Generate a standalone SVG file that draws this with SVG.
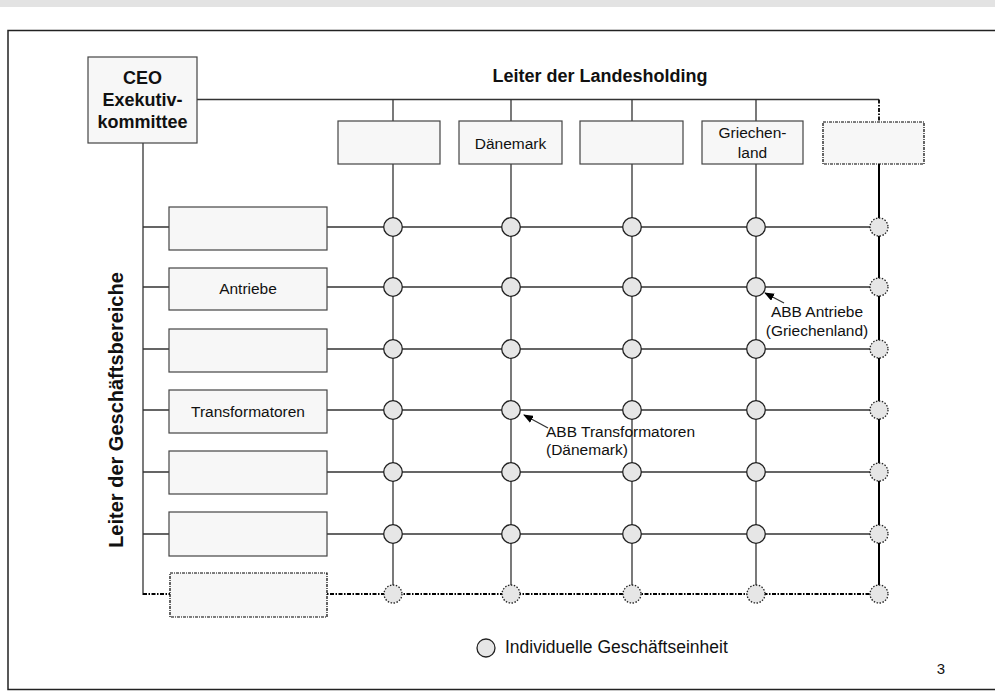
<svg xmlns="http://www.w3.org/2000/svg" width="995" height="700" viewBox="0 0 995 700">
<defs>
<marker id="ah" markerWidth="10" markerHeight="8" refX="9" refY="4" orient="auto" markerUnits="userSpaceOnUse">
<path d="M0,0 L10,4 L0,8 Z" fill="#000"/>
</marker>
</defs>
<style>
text{font-family:"Liberation Sans",Arial,sans-serif;fill:#111}
.b{font-weight:bold;font-size:18px}
.t{font-size:15.5px}
.box{fill:#f7f7f7;stroke:#444;stroke-width:1.2}
.dbox{fill:#f7f7f7;stroke:#000;stroke-width:1.2;stroke-dasharray:3 1 1 1}
.ln{stroke:#333;stroke-width:1.3;fill:none}
.dl{stroke:#000;stroke-width:1.8;fill:none;stroke-dasharray:4 1.5 1.5 1.5}
.tk{stroke:#000;stroke-width:2;fill:none}
.c{fill:#e6e6e6;stroke:#222;stroke-width:1.3}
.dc{fill:#e6e6e6;stroke:#222;stroke-width:1.3;stroke-dasharray:1.5 1.5}
</style>
<rect x="0" y="0" width="995" height="7" fill="#e3e3e3"/>
<rect x="8" y="30.5" width="1000" height="659" fill="#fff" stroke="#222" stroke-width="1.5"/>
<g id="connectors">
<path class="ln" d="M197,99.5 H879"/>
<path class="dl" d="M879,99.5 V122"/>
<path class="ln" d="M143,143 V595"/>
<path class="ln" d="M393,99.5 V594 M511,99.5 V594 M632,99.5 V594 M756,99.5 V594"/>
<path class="tk" d="M879,164 V594"/>
<path class="ln" d="M143,227 H879 M143,287 H879 M143,349 H879 M143,410 H879 M143,472 H879 M143,534 H879"/>
<path class="dl" d="M143,594 H879"/>
<path class="ln" d="M548,428 L524,415" marker-end="url(#ah)"/>
<path class="ln" d="M784,303 L765,293" marker-end="url(#ah)"/>
</g>
<g id="ceo">
<rect class="box" x="88" y="57" width="109" height="86"/>
<text class="b" x="142.5" y="84" text-anchor="middle">CEO</text>
<text class="b" x="142.5" y="106" text-anchor="middle">Exekutiv-</text>
<text class="b" x="142.5" y="128" text-anchor="middle">kommittee</text>
</g>
<g id="title-land"><text class="b" x="600" y="82" text-anchor="middle">Leiter der Landesholding</text></g>
<g id="title-gb"><text class="b" style="font-size:20px" transform="translate(123,410) rotate(-90)" text-anchor="middle">Leiter der Geschäftsbereiche</text></g>
<g id="land1"><rect class="box" x="338" y="121" width="102" height="43"/></g>
<g id="land2"><rect class="box" x="459" y="121" width="103" height="43"/><text class="t" x="510.5" y="149" text-anchor="middle">Dänemark</text></g>
<g id="land3"><rect class="box" x="580" y="121" width="103" height="43"/></g>
<g id="land4"><rect class="box" x="702" y="121" width="101" height="43"/><text class="t" x="752.5" y="138" text-anchor="middle">Griechen-</text><text class="t" x="752.5" y="158" text-anchor="middle">land</text></g>
<g id="land5"><rect class="dbox" x="823" y="122" width="101" height="42"/></g>
<g id="gb1"><rect class="box" x="169" y="207" width="158" height="43"/></g>
<g id="gb2"><rect class="box" x="169" y="268" width="158" height="42"/><text class="t" x="248" y="294" text-anchor="middle">Antriebe</text></g>
<g id="gb3"><rect class="box" x="169" y="329" width="158" height="43"/></g>
<g id="gb4"><rect class="box" x="169" y="390" width="158" height="43"/><text class="t" x="248" y="417" text-anchor="middle">Transformatoren</text></g>
<g id="gb5"><rect class="box" x="169" y="451" width="158" height="43"/></g>
<g id="gb6"><rect class="box" x="169" y="512" width="158" height="44"/></g>
<g id="gb7"><rect class="dbox" x="170" y="573" width="157" height="44"/></g>
<g id="units">
<g class="c">
<circle cx="393" cy="227" r="9.3"/><circle cx="511" cy="227" r="9.3"/><circle cx="632" cy="227" r="9.3"/><circle cx="756" cy="227" r="9.3"/>
<circle cx="393" cy="287" r="9.3"/><circle cx="511" cy="287" r="9.3"/><circle cx="632" cy="287" r="9.3"/><circle cx="756" cy="287" r="9.3"/>
<circle cx="393" cy="349" r="9.3"/><circle cx="511" cy="349" r="9.3"/><circle cx="632" cy="349" r="9.3"/><circle cx="756" cy="349" r="9.3"/>
<circle cx="393" cy="410" r="9.3"/><circle cx="511" cy="410" r="9.3"/><circle cx="632" cy="410" r="9.3"/><circle cx="756" cy="410" r="9.3"/>
<circle cx="393" cy="472" r="9.3"/><circle cx="511" cy="472" r="9.3"/><circle cx="632" cy="472" r="9.3"/><circle cx="756" cy="472" r="9.3"/>
<circle cx="393" cy="534" r="9.3"/><circle cx="511" cy="534" r="9.3"/><circle cx="632" cy="534" r="9.3"/><circle cx="756" cy="534" r="9.3"/>
</g>
<g class="dc">
<circle cx="879" cy="227" r="9"/><circle cx="879" cy="287" r="9"/><circle cx="879" cy="349" r="9"/><circle cx="879" cy="410" r="9"/><circle cx="879" cy="472" r="9"/><circle cx="879" cy="534" r="9"/>
<circle cx="393" cy="594" r="9"/><circle cx="511" cy="594" r="9"/><circle cx="632" cy="594" r="9"/><circle cx="756" cy="594" r="9"/><circle cx="879" cy="594" r="9"/>
</g>
</g>
<g id="ann1"><text class="t" x="817" y="317" text-anchor="middle">ABB Antriebe</text><text class="t" x="817" y="336" text-anchor="middle">(Griechenland)</text></g>
<g id="ann2"><text class="t" x="546" y="437">ABB Transformatoren</text><text class="t" x="546" y="455">(Dänemark)</text></g>
<g id="legend"><circle class="c" cx="486" cy="648" r="9"/><text x="505" y="653" style="font-size:17.5px">Individuelle Geschäftseinheit</text></g>
<g id="page"><text x="941" y="674" text-anchor="middle" style="font-size:15px">3</text></g>
</svg>
